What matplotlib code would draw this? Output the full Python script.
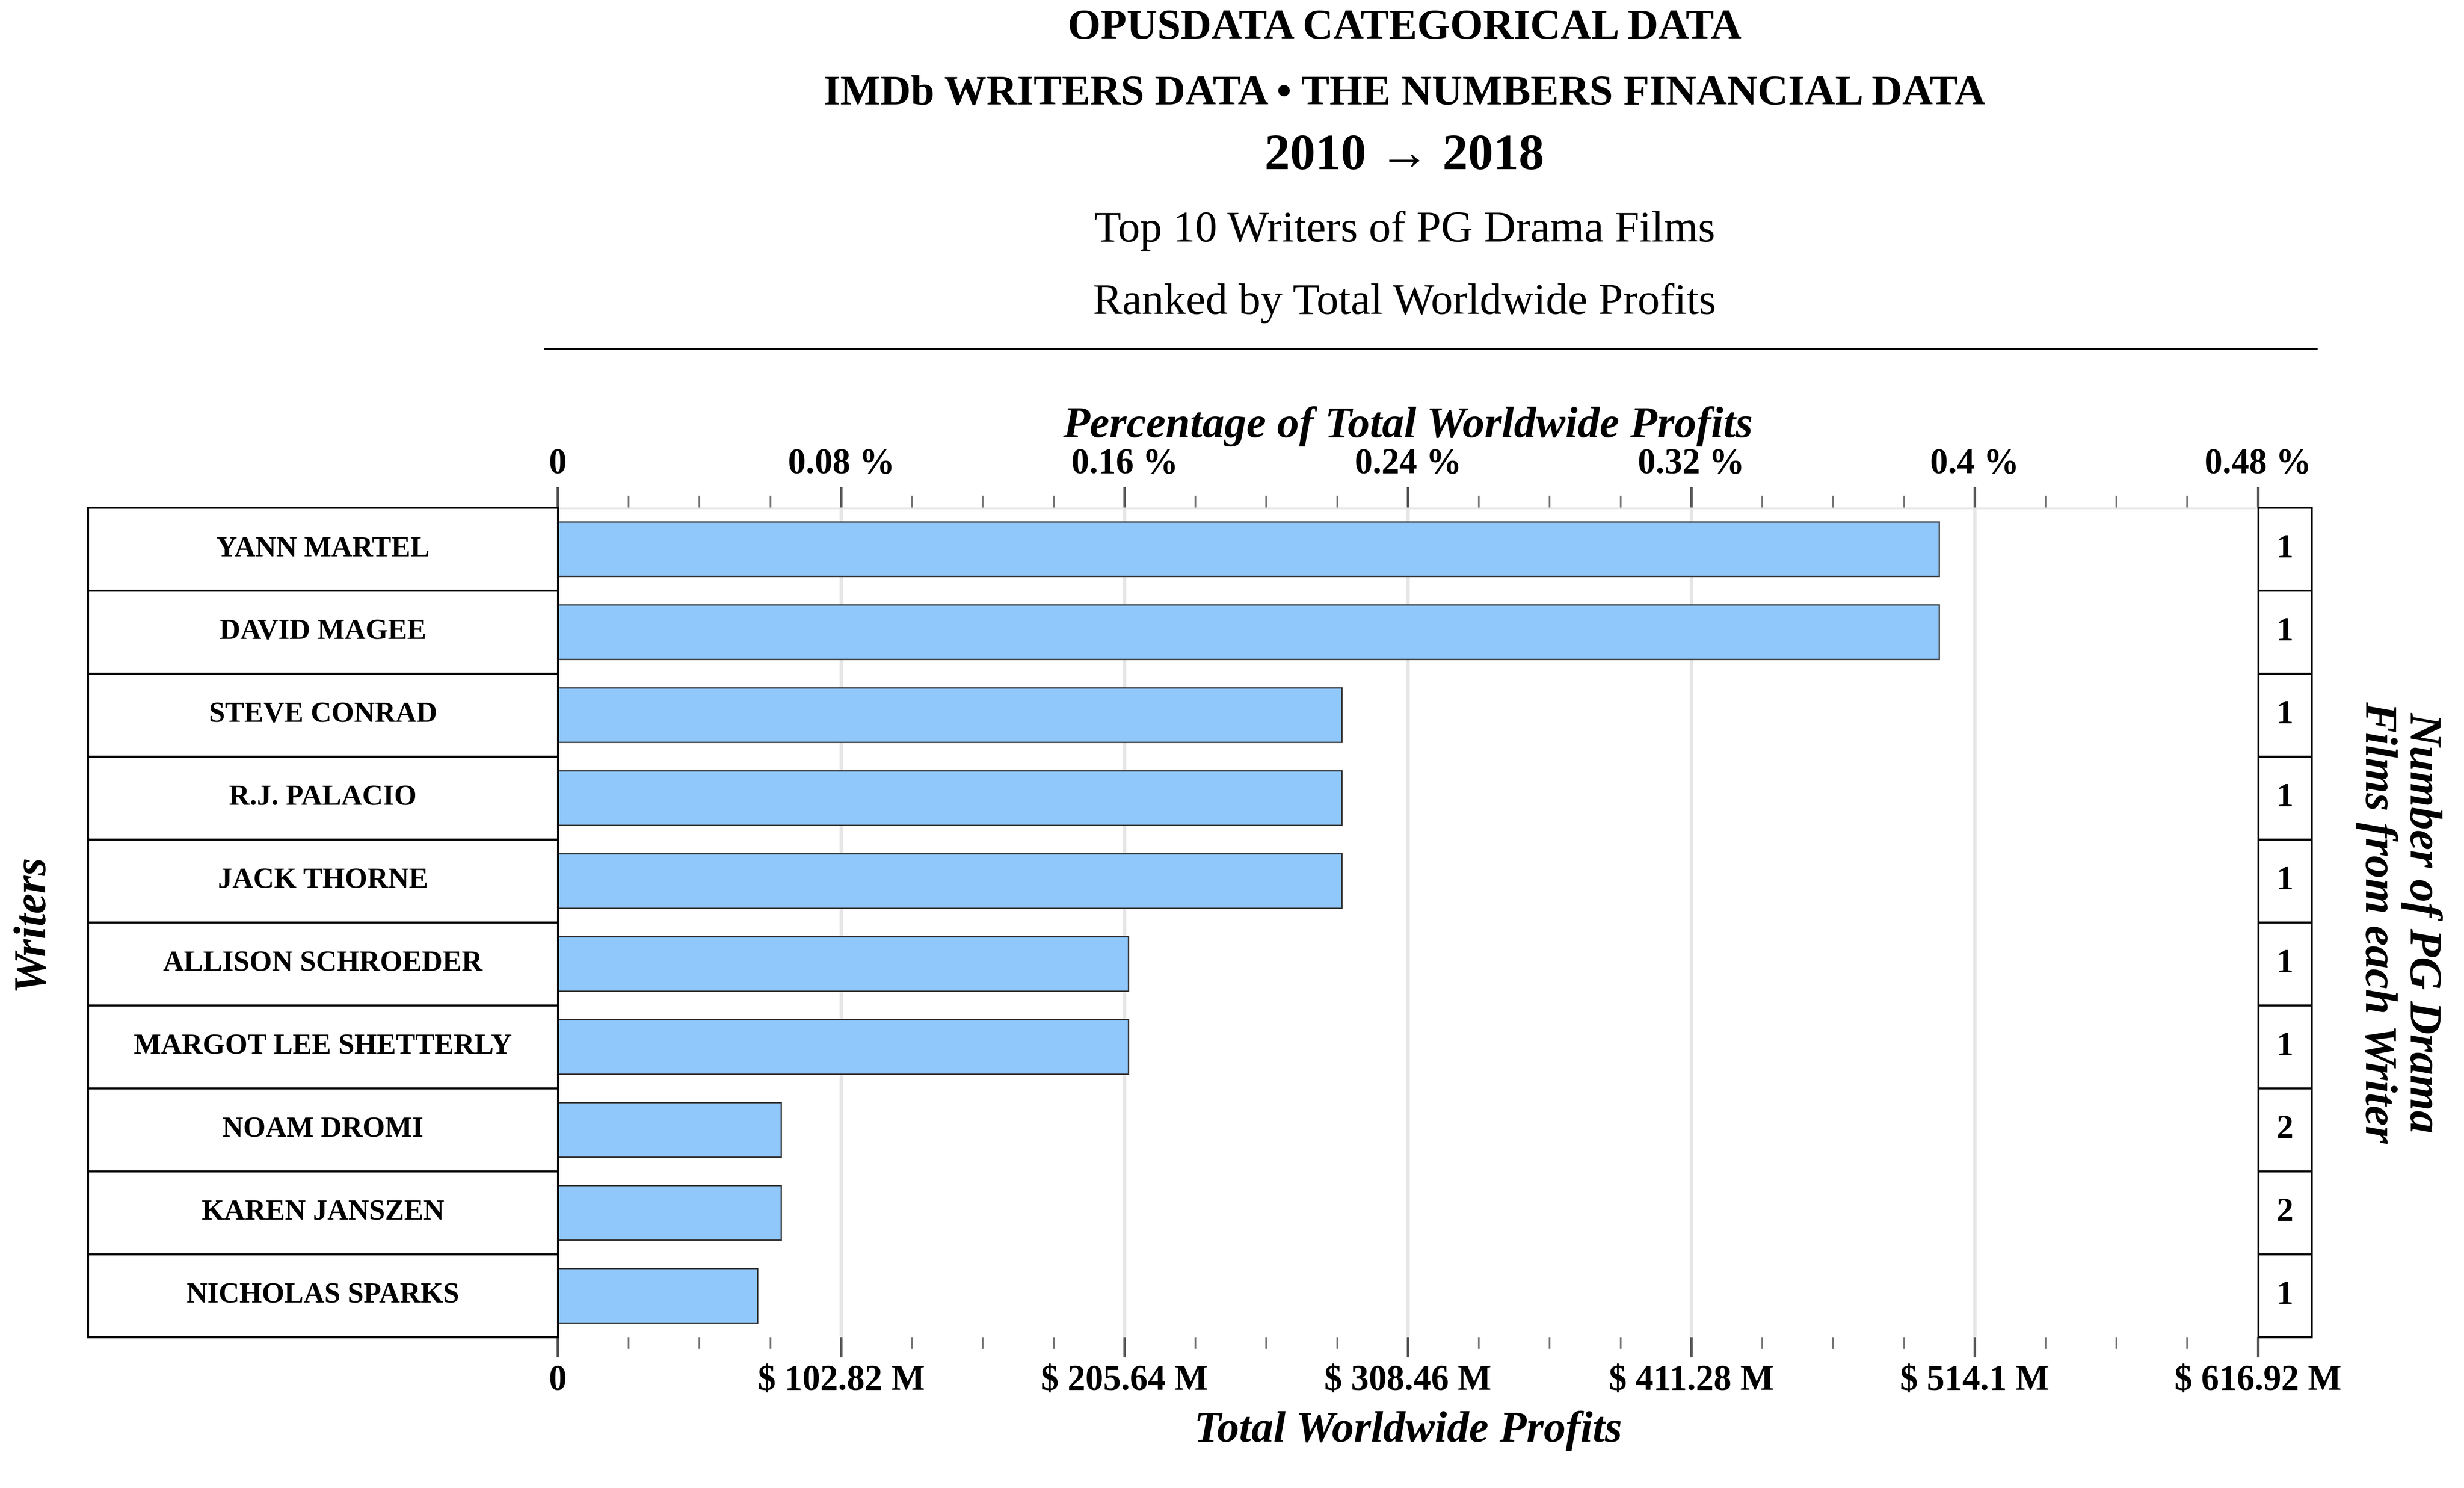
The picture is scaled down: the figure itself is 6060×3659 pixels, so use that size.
import matplotlib.pyplot as plt
from matplotlib.patches import Rectangle

plt.rcParams['font.family'] = ['Liberation Serif', 'DejaVu Serif']

writers = ['Yann Martel', 'David Magee', 'Steve Conrad', 'R.J. Palacio', 'Jack Thorne',
           'Allison Schroeder', 'Margot Lee Shetterly', 'Noam Dromi', 'Karen Janszen',
           'Nicholas Sparks']
profits = [501.2, 501.2, 284.5, 284.5, 284.5, 207.0, 207.0, 81.0, 81.0, 72.4]  # $M
film_counts = [1, 1, 1, 1, 1, 1, 1, 2, 2, 1]
x_ticks = [0, 102.82, 205.64, 308.46, 411.28, 514.1, 616.92]
pct_labels = ['0', '0.08 %', '0.16 %', '0.24 %', '0.32 %', '0.4 %', '0.48 %']

W, H = 1568, 947
fig = plt.figure(figsize=(20.2, 20.2 * 3659 / 6060), dpi=300)

def fx(px): return px / W
def fy(py): return 1 - py / H

ax_l, ax_r, ax_t, ax_b = 355, 1437, 323, 851
ax = fig.add_axes([fx(ax_l), fy(ax_b), fx(ax_r - ax_l), fy(ax_t) - fy(ax_b)])
n = len(writers)
ys = list(range(n))
ax.barh(ys, profits, height=0.66, color='#90c8fc', edgecolor='#333333', linewidth=0.8, zorder=3)
ax.set_ylim(n - 0.5, -0.5)
ax.set_xlim(0, x_ticks[-1])
ax.set_yticks([])
ax.set_xticks(x_ticks)
minor = [(x_ticks[i] + x_ticks[i + 1]) / 2 for i in range(len(x_ticks) - 1)]
minor += [x_ticks[i] + d * (x_ticks[1] / 4) for i in range(len(x_ticks) - 1) for d in (1, 3)]
ax.set_xticks(minor, minor=True)
ax.set_xticklabels(['0'] + ['\\$ %s M' % (('%g' % v)) for v in x_ticks[1:]],
                   fontsize=21, fontweight='bold')
ax.tick_params(axis='x', which='major', length=12, width=1.5, color='#555555', pad=4)
ax.tick_params(axis='x', which='minor', length=7, width=1, color='#777777')
for v in x_ticks[1:-1]:
    ax.axvline(v, color='#e6e6e6', lw=2, zorder=1)
for s in ['top', 'bottom', 'right']:
    ax.spines[s].set_visible(False)
ax.spines['left'].set_linewidth(1.2)
ax.axhline(-0.5, color='#e6e6e6', lw=2, zorder=1)
ax.set_xlabel('Total Worldwide Profits', fontsize=26, fontweight='bold', style='italic', labelpad=8)

top = ax.secondary_xaxis('top')
top.set_xticks(x_ticks)
top.set_xticklabels(pct_labels, fontsize=21, fontweight='bold')
top.set_xticks(minor, minor=True)
top.tick_params(axis='x', which='major', length=12, width=1.5, color='#555555', pad=4)
top.tick_params(axis='x', which='minor', length=7, width=1, color='#777777')
top.spines['top'].set_visible(False)
top.set_xlabel('Percentage of Total Worldwide Profits', fontsize=26, fontweight='bold',
               style='italic', labelpad=6)

# left label table and right count column
row_h = (ax_b - ax_t) / n
for i, (name, c) in enumerate(zip(writers, film_counts)):
    y0 = ax_t + i * row_h
    fig.patches.append(Rectangle((fx(56), fy(y0 + row_h)), fx(ax_l - 56), row_h / H,
                                 transform=fig.transFigure, fill=False, ec='black', lw=1.2))
    fig.text(fx((56 + ax_l) / 2), fy(y0 + row_h / 2), name.upper(), ha='center', va='center',
             fontsize=17, fontweight='bold')
    fig.patches.append(Rectangle((fx(ax_r), fy(y0 + row_h)), fx(1471 - ax_r), row_h / H,
                                 transform=fig.transFigure, fill=False, ec='black', lw=1.2))
    fig.text(fx((ax_r + 1471) / 2), fy(y0 + row_h / 2), str(c), ha='center', va='center',
             fontsize=20, fontweight='bold')

fig.text(fx(20), fy(587), 'Writers', rotation=90, ha='center', va='center',
         fontsize=27, fontweight='bold', style='italic')
fig.text(fx(1527), fy(587), 'Number of PG Drama\nFilms from each Writer', rotation=270,
         ha='center', va='center', fontsize=27, fontweight='bold', style='italic', linespacing=1.1)

fig.text(0.57, fy(18), 'OPUSDATA CATEGORICAL DATA', ha='center', va='center', fontsize=25, fontweight='bold')
fig.text(0.57, fy(60), 'IMDb WRITERS DATA • THE NUMBERS FINANCIAL DATA', ha='center', va='center',
         fontsize=25, fontweight='bold')
fig.text(0.57, fy(100), '2010 → 2018', ha='center', va='center', fontsize=30, fontweight='bold')
fig.text(0.57, fy(147), 'Top 10 Writers of PG Drama Films', ha='center', va='center', fontsize=26)
fig.text(0.57, fy(193), 'Ranked by Total Worldwide Profits', ha='center', va='center', fontsize=26)
fig.add_artist(plt.Line2D([fx(347), fx(1474)], [fy(222), fy(222)], color='black', lw=1.2))

fig.savefig('out.png', dpi=300)
